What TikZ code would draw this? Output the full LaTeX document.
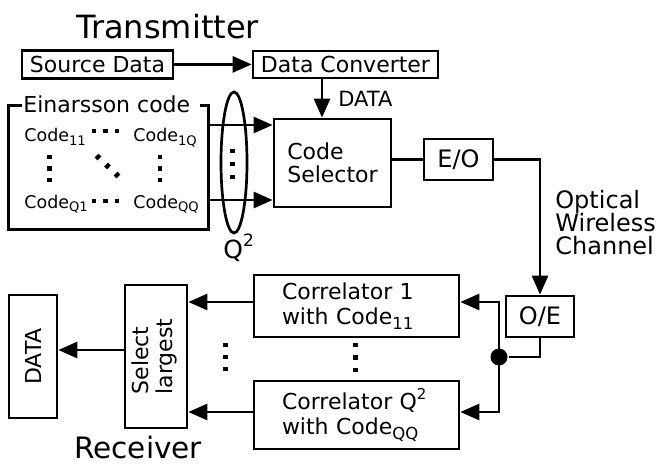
\documentclass[tikz,border=0pt]{standalone}
\usepackage{fontspec}
\setmainfont{DejaVu Sans}
\usepackage{graphicx}
\usetikzlibrary{arrows.meta,shapes.geometric,calc}

\newcommand\fsz[1]{\fontsize{#1}{#1}\selectfont}
\newcommand\dsub[1]{\raisebox{-0.22em}{\scalebox{0.75}{#1}}}
\newcommand\usup[1]{\raisebox{0.45em}{\scalebox{0.68}{#1}}}
\newcommand\sqdot[2]{\fill (#1-2.3,#2-2.3) rectangle (#1+2.3,#2+2.3);}

\begin{document}
\begin{tikzpicture}[x=1pt,y=-1pt,
  line width=2.7pt,
  box/.style={draw, rectangle, inner sep=0pt, font=\fsz{22}},
  arr/.style={-{Triangle[length=19pt,width=16pt]}},
  lbl/.style={anchor=base west, inner sep=0pt}
]
\useasboundingbox (0,0) rectangle (661,465);

% ---------- transmitter ----------
\node[lbl, font=\fsz{32}] (tx) at (75,39) {Transmitter};
\node[box, minimum width=151pt, minimum height=28pt] (src) at (97.5,64.4) {Source Data};
\node[box, minimum width=185pt, minimum height=27pt] (conv) at (345.5,64.5) {Data Converter};
\draw[arr] (src.east) -- (src.east -| conv.west);

\node[box, minimum width=117pt, minimum height=88pt, align=left,
      font=\fontsize{22}{23.5}\selectfont] (cs) at (332.5,163) {Code\\Selector};
\coordinate (xc) at (322,0);
\draw[arr] (conv.south -| xc) -- (cs.north -| xc);
\node[lbl, font=\fsz{21}] (datalbl) at (337,107) {DATA};

% Einarsson code group
\node[minimum width=197pt, minimum height=121pt, inner sep=0pt] (ein) at (108.5,167.5) {};
\node[lbl, font=\fsz{22}] (etitle) at (22,113) {Einarsson code};
\draw (etitle.west |- ein.north) -- (ein.north west) -- (ein.south west)
      -- (ein.south east) -- (ein.north east) -- ([xshift=8pt]etitle.east |- ein.north);
\node[lbl, font=\fsz{17.5}] (c11) at (23,142) {Code\dsub{11}};
\node[lbl, font=\fsz{17.5}] (c1q) at (132,142) {Code\dsub{1Q}};
\node[lbl, font=\fsz{17.5}] (cq1) at (23,208) {Code\dsub{Q1}};
\node[lbl, font=\fsz{17.5}] (cqq) at (132,208) {Code\dsub{QQ}};
% matrix dots
\sqdot{94}{131}\sqdot{105.5}{131}\sqdot{117}{131}
\sqdot{94}{201}\sqdot{105.5}{201}\sqdot{117}{201}
\sqdot{49.5}{157}\sqdot{49.5}{168.5}\sqdot{49.5}{180}
\sqdot{160}{157}\sqdot{160}{168.5}\sqdot{160}{180}
\foreach \px/\py in {98/157, 107.5/166, 117/175}
  \fill[shift={(\px,\py)}, rotate=45] (-2.8,-2) rectangle (2.8,2);

\coordinate (ya) at (0,125);
\coordinate (yb) at (0,200);
\draw[arr] (ein.east |- ya) -- (cs.west |- ya);
\draw[arr] (ein.east |- yb) -- (cs.west |- yb);

\node[draw, ellipse, minimum width=26pt, minimum height=141pt, inner sep=0pt] (ell) at (234,162.5) {};
\sqdot{232.5}{151}\sqdot{232.5}{164}\sqdot{232.5}{177}
\node[lbl, font=\fsz{25}] (q2) at (222,258) {Q\usup{2}};

\node[box, minimum width=69pt, minimum height=41pt, font=\fsz{24}] (eo) at (458.5,159.5) {E/O};
\draw (cs.east |- eo.west) -- (eo.west);

% ---------- channel ----------
\node[box, minimum width=68pt, minimum height=41pt, font=\fsz{24}] (oe) at (540,316.5) {O/E};
\draw[arr] (eo.east) -| (oe.north);
\node[lbl, font=\fsz{24}] (ch1) at (554,208) {Optical};
\node[lbl, font=\fsz{24}] (ch2) at (554,231) {Wireless};
\node[lbl, font=\fsz{24}] (ch3) at (554,254) {Channel};

% ---------- receiver ----------
\node[box, minimum width=205pt, minimum height=62pt, text width=149pt, inner xsep=28pt,
      align=left, font=\fontsize{22}{25}\selectfont] (c1) at (356.5,306)
      {Correlator 1\\with Code\dsub{11}};
\node[box, minimum width=205pt, minimum height=68pt, text width=149pt, inner xsep=28pt,
      align=left, font=\fontsize{22}{25}\selectfont] (cq) at (356.5,415)
      {Correlator Q\usup{2}\\with Code\dsub{QQ}};
\sqdot{355.5}{345}\sqdot{355.5}{357.5}\sqdot{355.5}{370}

\node[circle, fill, minimum size=17pt, inner sep=0pt] (jn) at (499,357) {};
\draw (oe.south) |- (jn);
\coordinate (tu) at (499,302);
\coordinate (td) at (499,412);
\draw[arr] (jn.center) -- (tu) -- (tu -| c1.east);
\draw[arr] (jn.center) -- (td) -- (td -| cq.east);

\node[box, minimum width=62pt, minimum height=143pt] (sel) at (156,356.5)
  {\rotatebox{90}{\fontsize{22}{24}\selectfont\begin{tabular}{@{}l@{}}Select\\largest\end{tabular}}};
\draw[arr] (c1.west |- tu) -- (sel.east |- tu);
\draw[arr] (cq.west |- td) -- (sel.east |- td);
\sqdot{225.5}{345}\sqdot{225.5}{357}\sqdot{225.5}{369}

\node[box, minimum width=48pt, minimum height=123pt] (dbox) at (33,356.5) {\rotatebox{90}{DATA}};
\coordinate (ys) at (0,350);
\draw[arr] (sel.west |- ys) -- (dbox.east |- ys);

\node[lbl, font=\fsz{29.5}] (rx) at (73,458.5) {Receiver};
\end{tikzpicture}
\end{document}
